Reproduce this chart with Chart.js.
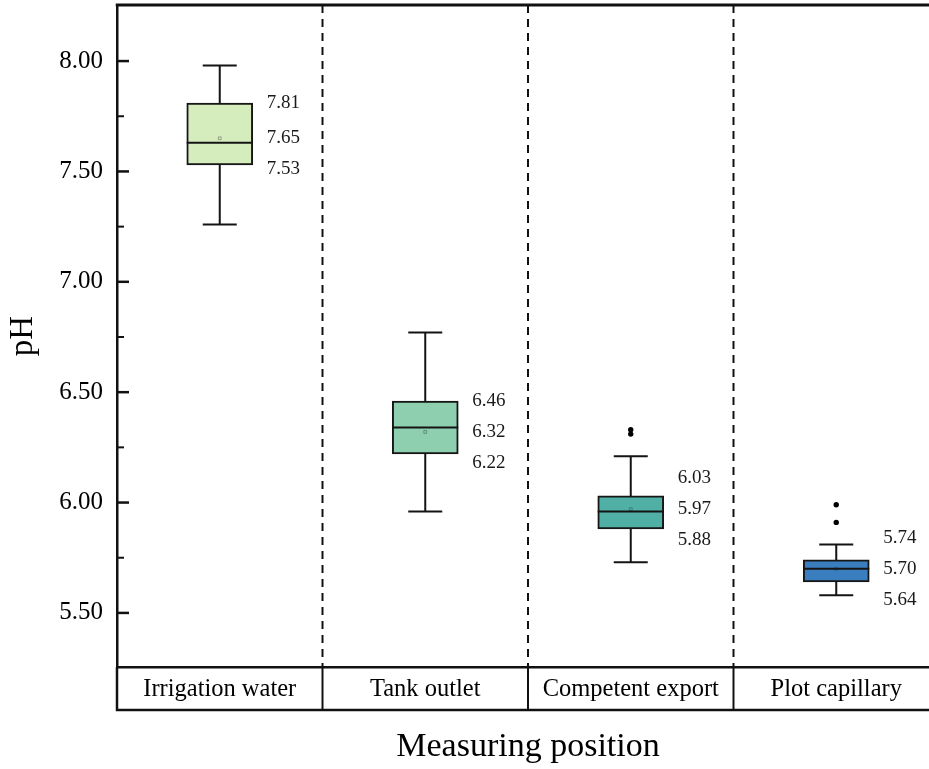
<!DOCTYPE html>
<html><head><meta charset="utf-8">
<script src="https://cdn.jsdelivr.net/npm/chart.js@4"></script>
<style>
html,body{margin:0;padding:0;overflow:hidden;background:#fff;width:929px;height:769px;}
#wrap{position:absolute;left:0;top:0;width:945px;height:769px;}
</style></head><body>
<div id="wrap"><canvas id="c"></canvas></div>
<script>
const categories = ['Irrigation water', 'Tank outlet', 'Competent export', 'Plot capillary'];
const whiskerLow  = [7.26, 5.96, 5.73, 5.58];
const q1          = [7.53, 6.22, 5.88, 5.64];
const median      = [7.63, 6.34, 5.96, 5.70];
const mean        = [7.65, 6.32, 5.97, 5.70];
const q3          = [7.81, 6.46, 6.03, 5.74];
const whiskerHigh = [7.98, 6.77, 6.21, 5.81];
const outlierCat  = ['Competent export', 'Competent export', 'Plot capillary', 'Plot capillary'];
const outlierVal  = [6.33, 6.31, 5.99, 5.91];
const yTicks      = [5.5, 6.0, 6.5, 7.0, 7.5, 8.0];
const yTickLabels = ['5.50', '6.00', '6.50', '7.00', '7.50', '8.00'];
const yMinorTicks = [5.75, 6.25, 6.75, 7.25, 7.75];
const boxColors   = ['#d5ecbd', '#8dcfae', '#50b0a5', '#3a7ebf'];

const SERIF = 'Liberation Serif';

const extras = {
  id: 'boxExtras',
  beforeDatasetsDraw(chart) {
    const {ctx, chartArea: ca, scales: {x, y}} = chart;
    ctx.save();
    ctx.strokeStyle = '#111';
    ctx.lineWidth = 2;
    ctx.setLineDash([8, 6]);
    for (let i = 0; i < categories.length - 1; i++) {
      const bx = (x.getPixelForValue(i) + x.getPixelForValue(i + 1)) / 2;
      ctx.beginPath(); ctx.moveTo(bx, ca.top); ctx.lineTo(bx, ca.bottom); ctx.stroke();
    }
    ctx.setLineDash([]);
    ctx.strokeStyle = '#141414';
    ctx.lineWidth = 2;
    categories.forEach((c, i) => {
      const cx = x.getPixelForValue(i);
      const pairs = [[q3[i], whiskerHigh[i]], [q1[i], whiskerLow[i]]];
      pairs.forEach(([a, b]) => {
        ctx.beginPath();
        ctx.moveTo(cx, y.getPixelForValue(a));
        ctx.lineTo(cx, y.getPixelForValue(b));
        ctx.moveTo(cx - 17, y.getPixelForValue(b));
        ctx.lineTo(cx + 17, y.getPixelForValue(b));
        ctx.stroke();
      });
    });
    ctx.restore();
  },
  afterDatasetsDraw(chart) {
    const {ctx, scales: {x, y}} = chart;
    const bars = chart.getDatasetMeta(0).data;
    ctx.save();
    ctx.strokeStyle = '#141414';
    ctx.lineWidth = 2;
    categories.forEach((c, i) => {
      const b = bars[i];
      const my = y.getPixelForValue(median[i]);
      ctx.beginPath();
      ctx.moveTo(b.x - b.width / 2, my);
      ctx.lineTo(b.x + b.width / 2, my);
      ctx.stroke();
    });
    ctx.fillStyle = '#1a1a1a';
    ctx.font = '19px "' + SERIF + '"';
    ctx.textAlign = 'left';
    ctx.textBaseline = 'middle';
    categories.forEach((c, i) => {
      const b = bars[i];
      const lx = b.x + b.width / 2 + 14;
      const mid = y.getPixelForValue(mean[i]);
      const top = Math.min(y.getPixelForValue(q3[i]), mid - 31);
      const bot = Math.max(y.getPixelForValue(q1[i]), mid + 31);
      ctx.fillText(q3[i].toFixed(2), lx, top);
      ctx.fillText(mean[i].toFixed(2), lx, mid);
      ctx.fillText(q1[i].toFixed(2), lx, bot);
    });
    ctx.restore();
  },
  afterDraw(chart) {
    const {ctx, chartArea: ca, scales: {x, y}} = chart;
    ctx.save();
    ctx.strokeStyle = '#111';
    ctx.lineWidth = 3;
    ctx.beginPath(); ctx.moveTo(ca.left - 1.25, ca.top); ctx.lineTo(chart.width, ca.top); ctx.stroke();
    const boxBottom = ca.bottom + 43;
    ctx.lineWidth = 2.5;
    ctx.beginPath();
    ctx.moveTo(ca.left, ca.bottom); ctx.lineTo(ca.left, boxBottom);
    ctx.moveTo(ca.left - 1.25, boxBottom); ctx.lineTo(chart.width, boxBottom);
    ctx.stroke();
    ctx.lineWidth = 2;
    for (let i = 0; i < categories.length - 1; i++) {
      const bx = (x.getPixelForValue(i) + x.getPixelForValue(i + 1)) / 2;
      ctx.beginPath(); ctx.moveTo(bx, ca.bottom); ctx.lineTo(bx, boxBottom); ctx.stroke();
    }
    ctx.lineWidth = 2.5;
    yTicks.forEach(v => {
      const py = y.getPixelForValue(v);
      ctx.beginPath(); ctx.moveTo(ca.left, py); ctx.lineTo(ca.left + 12, py); ctx.stroke();
    });
    ctx.lineWidth = 2;
    yMinorTicks.forEach(v => {
      const py = y.getPixelForValue(v);
      ctx.beginPath(); ctx.moveTo(ca.left, py); ctx.lineTo(ca.left + 7, py); ctx.stroke();
    });
    ctx.restore();
  }
};

new Chart(document.getElementById('c'), {
  type: 'bar',
  data: {
    labels: categories,
    datasets: [
      {
        type: 'bar',
        data: categories.map((c, i) => [q1[i], q3[i]]),
        backgroundColor: boxColors,
        borderColor: '#161616',
        borderWidth: 2,
        borderSkipped: false,
        barThickness: 66,
        order: 3
      },
      {
        type: 'scatter',
        data: outlierCat.map((c, i) => ({x: c, y: outlierVal[i]})),
        pointRadius: 2.7,
        pointBackgroundColor: '#000',
        pointBorderWidth: 0,
        order: 2
      },
      {
        type: 'scatter',
        data: categories.map((c, i) => ({x: c, y: mean[i]})),
        pointStyle: 'rect',
        pointRadius: 2,
        pointBackgroundColor: 'rgba(0,0,0,0)',
        pointBorderColor: 'rgba(40,40,40,0.45)',
        pointBorderWidth: 0.8,
        order: 1
      }
    ]
  },
  options: {
    responsive: true,
    maintainAspectRatio: false,
    animation: false,
    layout: {padding: {left: 0, right: 6, top: 5, bottom: 0}},
    plugins: {legend: {display: false}, tooltip: {enabled: false}},
    scales: {
      x: {
        type: 'category',
        labels: categories,
        offset: true,
        grid: {display: false, drawTicks: false},
        border: {display: true, color: '#111', width: 2.5},
        ticks: {font: {family: SERIF, size: 24.5}, color: '#000', padding: 8, maxRotation: 0, autoSkip: false},
        afterFit: s => { s.height = 102; s.paddingLeft = 0; s.paddingRight = 0; },
        title: {display: true, text: 'Measuring position', font: {family: SERIF, size: 34}, color: '#000', padding: {top: 0, bottom: 2}}
      },
      y: {
        type: 'linear',
        min: 5.255,
        max: 8.254,
        afterBuildTicks: s => { s.ticks = yTicks.map(v => ({value: v})); },
        ticks: {callback: (v, i) => yTickLabels[i], font: {family: SERIF, size: 25}, color: '#000', padding: 14},
        grid: {display: false, drawTicks: false},
        border: {display: true, color: '#111', width: 2.5},
        afterFit: s => { s.width = 117; s.paddingTop = 0; s.paddingBottom = 0; },
        title: {display: true, text: 'pH', font: {family: SERIF, size: 33}, color: '#000', padding: {top: 4, bottom: 0}}
      }
    }
  },
  plugins: [extras]
});
</script>
</body></html>
